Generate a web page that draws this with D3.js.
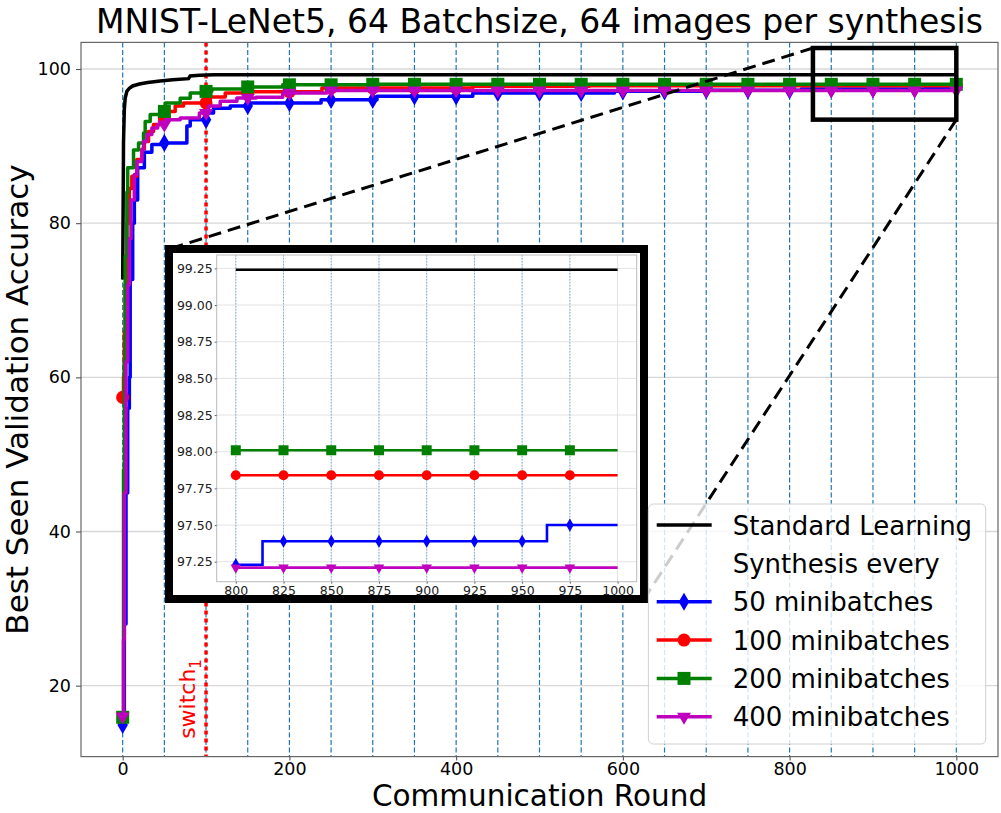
<!DOCTYPE html>
<html>
<head>
<meta charset="utf-8">
<script src="https://cdn.jsdelivr.net/npm/d3@7.9.0/dist/d3.min.js"></script>
<style>
  body { margin: 0; background: #fff; }
  svg { display: block; font-family: "DejaVu Sans", sans-serif; }
</style>
</head>
<body>
<svg id="chart" width="1001" height="813"></svg>
<script>
// ---- data (round where a new best value starts, value) ----
const stdRounds = [0, 1, 2, 3, 5, 8, 12, 20, 30, 45, 60, 79, 81, 92, 110];
const stdAcc    = [72.7, 90.5, 94.8, 96.2, 97.1, 97.5, 97.8, 98.05, 98.25, 98.45, 98.6, 98.75, 99.1, 99.2, 99.24];

const mb50Rounds = [0, 2, 4, 6, 8, 9, 12, 14, 18, 26, 35, 49, 77, 81, 101, 109, 129, 153, 238, 305, 420, 590, 700, 814, 963];
const mb50Acc    = [14.9, 28, 45, 56, 60, 72.7, 80, 83, 87.2, 89.2, 90.2, 90.4, 92.6, 93.4, 94.3, 94.9, 95.2, 95.6, 96.0, 96.45, 96.9, 97.1, 97.23, 97.39, 97.5];

const mb100Rounds = [0, 1, 2, 3, 5, 8, 11, 17, 23, 26, 31, 37, 45, 55, 63, 73, 105, 123, 145, 239, 420, 560];
const mb100Acc    = [57.4, 60, 66, 72, 80, 84.5, 86.1, 88.25, 89.6, 90.6, 91.9, 92.8, 93.65, 94.5, 95.2, 95.6, 96.37, 96.9, 97.05, 97.54, 97.75, 97.84];

const mb200Rounds = [0, 1, 2, 3, 5, 6, 13, 19, 25, 27, 33, 45, 51, 69, 81, 95, 107, 145, 192, 300];
const mb200Acc    = [15.9, 48, 62, 75.7, 84, 87.2, 89.5, 90.4, 91.7, 93.2, 94.1, 94.5, 95.6, 96.2, 96.9, 97.1, 97.4, 97.67, 97.95, 98.01];

const mb400Rounds = [0, 1, 2, 4, 6, 8, 10, 14, 17, 23, 25, 29, 35, 42, 51, 69, 92, 103, 117, 137, 160, 192, 245];
const mb400Acc    = [16.0, 26, 45, 62, 72, 78, 83, 86.3, 88.0, 89.5, 90.6, 91.5, 92.35, 92.8, 93.4, 93.65, 94.3, 95.2, 95.8, 96.24, 96.35, 96.9, 97.21];

const lastRound = 1000;
const switchRound = 100;
const xTicks = [0, 200, 400, 600, 800, 1000];
const yTicks = [20, 40, 60, 80, 100];
const insetXTicks = [800, 825, 850, 875, 900, 925, 950, 975, 1000];
const insetYTicks = [97.25, 97.5, 97.75, 98.0, 98.25, 98.5, 98.75, 99.0, 99.25];
const zoomBox = { x0: 828, x1: 1000, y0: 93.43, y1: 102.72 };

const series = [
  { label: "50 minibatches",  rounds: mb50Rounds,  acc: mb50Acc,  color: "#0000ff", marker: "diamond" },
  { label: "100 minibatches", rounds: mb100Rounds, acc: mb100Acc, color: "#ff0000", marker: "circle" },
  { label: "200 minibatches", rounds: mb200Rounds, acc: mb200Acc, color: "#008000", marker: "square" },
  { label: "400 minibatches", rounds: mb400Rounds, acc: mb400Acc, color: "#bf00bf", marker: "tri" }
];

const svg = d3.select("#chart");

// main axes area
const W = { l: 81, r: 998, t: 42.4, b: 756.6 };
const x = d3.scaleLinear().domain([-50, 1050]).range([W.l, W.r]);
const y = d3.scaleLinear().domain([10.8, 103.45]).range([W.b, W.t]);

// step lookup of the best-seen value at a round
function valueAt(s, r) {
  const i = d3.bisectRight(s.rounds, r) - 1;
  return s.acc[Math.max(0, i)];
}
function points(s) {
  const p = s.rounds.map((r, i) => [r, s.acc[i]]);
  p.push([lastRound, s.acc[s.acc.length - 1]]);
  return p;
}

// marker shapes (main size, inset size)
function symbolFor(kind, big) {
  const sizes = big
    ? { square: 169, circle: 133, diamond: 95, tri: 85 }
    : { square: 100, circle: 80, diamond: 50, tri: 48 };
  const types = { square: d3.symbolSquare, circle: d3.symbolCircle, diamond: d3.symbolDiamond, tri: d3.symbolTriangle };
  return d3.symbol().type(types[kind]).size(sizes[kind])();
}
function markerTransform(kind, px, py) {
  return kind === "tri" ? `translate(${px},${py}) rotate(180)` : `translate(${px},${py})`;
}

// grid
svg.append("g").selectAll("line").data(yTicks).join("line")
  .attr("x1", W.l).attr("x2", W.r)
  .attr("y1", d => y(d)).attr("y2", d => y(d))
  .attr("stroke", "#d8d8d8").attr("stroke-width", 1.3);

// dashed blue lines at every 50 rounds
svg.append("g").selectAll("line").data(d3.range(0, lastRound + 1, 50)).join("line")
  .attr("x1", d => x(d)).attr("x2", d => x(d))
  .attr("y1", W.t).attr("y2", W.b)
  .attr("stroke", "#1f77b4").attr("stroke-width", 1.2)
  .attr("stroke-dasharray", "5,2.5");

// switch line
svg.append("line")
  .attr("x1", x(switchRound)).attr("x2", x(switchRound))
  .attr("y1", W.t).attr("y2", W.b)
  .attr("stroke", "#ff0000").attr("stroke-width", 3.5)
  .attr("stroke-dasharray", "4,4");

svg.append("text")
  .attr("transform", `translate(${x(87)},${y(13.1)}) rotate(-90)`)
  .attr("fill", "#ff0000").attr("font-size", 22)
  .text("switch")
  .append("tspan").attr("font-size", 15).attr("dy", 6).text("1");

// curves
const lineStep = d3.line().x(d => x(d[0])).y(d => y(d[1])).curve(d3.curveStepAfter);
const lineStd = d3.line().x(d => x(d[0])).y(d => y(d[1]));

svg.append("path")
  .attr("d", lineStd(points({ rounds: stdRounds, acc: stdAcc })))
  .attr("fill", "none").attr("stroke", "#000").attr("stroke-width", 3.5);

const markRounds = d3.range(0, lastRound + 1, 50);
series.forEach(s => {
  svg.append("path")
    .attr("d", lineStep(points(s)))
    .attr("fill", "none").attr("stroke", s.color).attr("stroke-width", 3.5)
    .attr("stroke-linejoin", "round");
  svg.append("g").selectAll("path").data(markRounds).join("path")
    .attr("d", symbolFor(s.marker, true))
    .attr("transform", r => markerTransform(s.marker, x(r), y(valueAt(s, r))))
    .attr("fill", s.color);
});

// frame + axes
svg.append("rect")
  .attr("x", W.l).attr("y", W.t).attr("width", W.r - W.l).attr("height", W.b - W.t)
  .attr("fill", "none").attr("stroke", "#666").attr("stroke-width", 1.2);

const gx = svg.append("g").attr("transform", `translate(0,${W.b})`)
  .call(d3.axisBottom(x).tickValues(xTicks).tickFormat(d3.format("d")).tickSize(4).tickPadding(2));
const gy = svg.append("g").attr("transform", `translate(${W.l},0)`)
  .call(d3.axisLeft(y).tickValues(yTicks).tickFormat(d3.format("d")).tickSize(5).tickPadding(5));
[gx, gy].forEach(g => {
  g.select(".domain").remove();
  g.selectAll(".tick line").attr("stroke", "#555").attr("stroke-width", 1.1);
  g.selectAll(".tick text").attr("font-size", 17.5).attr("font-family", "DejaVu Sans").attr("fill", "#000");
});

svg.append("text")
  .attr("x", (W.l + W.r) / 2).attr("y", 33)
  .attr("text-anchor", "middle").attr("font-size", 33)
  .text("MNIST-LeNet5, 64 Batchsize, 64 images per synthesis");
svg.append("text")
  .attr("x", (W.l + W.r) / 2).attr("y", 806)
  .attr("text-anchor", "middle").attr("font-size", 29.5)
  .text("Communication Round");
svg.append("text")
  .attr("transform", `translate(28,${(W.t + W.b) / 2}) rotate(-90)`)
  .attr("text-anchor", "middle").attr("font-size", 31)
  .text("Best Seen Validation Accuracy");

// zoom indicator box and connectors
const box = { x: x(zoomBox.x0), y: y(zoomBox.y1), w: x(zoomBox.x1) - x(zoomBox.x0), h: y(zoomBox.y0) - y(zoomBox.y1) };
svg.append("rect")
  .attr("x", box.x).attr("y", box.y).attr("width", box.w).attr("height", box.h)
  .attr("fill", "none").attr("stroke", "#000").attr("stroke-width", 4.5);

const IB = { x: 169, y: 249, w: 475, h: 350 }; // inset outer border (centre of stroke)
svg.append("line")
  .attr("x1", box.x).attr("y1", box.y).attr("x2", IB.x).attr("y2", IB.y)
  .attr("stroke", "#000").attr("stroke-width", 3).attr("stroke-dasharray", "13,7");
svg.append("line")
  .attr("x1", box.x + box.w).attr("y1", box.y + box.h).attr("x2", IB.x + IB.w).attr("y2", IB.y + IB.h)
  .attr("stroke", "#000").attr("stroke-width", 3).attr("stroke-dasharray", "13,7");

// ---- inset ----
const inset = svg.append("g");
inset.append("rect")
  .attr("x", IB.x).attr("y", IB.y).attr("width", IB.w).attr("height", IB.h)
  .attr("fill", "#fff").attr("stroke", "#000").attr("stroke-width", 8);

const I = { l: 216.7, r: 636.7, t: 255, b: 581.7 };
const ix = d3.scaleLinear().domain([790, 1010]).range([I.l, I.r]);
const iy = d3.scaleLinear().domain([97.114, 99.341]).range([I.b, I.t]);

inset.append("g").selectAll("line").data(insetYTicks).join("line")
  .attr("x1", I.l).attr("x2", I.r).attr("y1", d => iy(d)).attr("y2", d => iy(d))
  .attr("stroke", "#e3e3e3").attr("stroke-width", 1);
inset.append("g").selectAll("line").data(insetXTicks).join("line")
  .attr("x1", d => ix(d)).attr("x2", d => ix(d)).attr("y1", I.t).attr("y2", I.b)
  .attr("stroke", "#e3e3e3").attr("stroke-width", 1);
inset.append("g").selectAll("line").data(d3.range(800, 1000, 25)).join("line")
  .attr("x1", d => ix(d)).attr("x2", d => ix(d)).attr("y1", I.t).attr("y2", I.b)
  .attr("stroke", "#7fb2d8").attr("stroke-width", 1).attr("stroke-dasharray", "1.5,1.5");

inset.append("rect")
  .attr("x", I.l).attr("y", I.t).attr("width", I.r - I.l).attr("height", I.b - I.t)
  .attr("fill", "none").attr("stroke", "#bbb").attr("stroke-width", 1);

function insetPoints(s) {
  const p = [[800, valueAt(s, 800)]];
  s.rounds.forEach((r, i) => { if (r > 800) p.push([r, s.acc[i]]); });
  p.push([lastRound, s.acc[s.acc.length - 1]]);
  return p;
}
const iLine = d3.line().x(d => ix(d[0])).y(d => iy(d[1])).curve(d3.curveStepAfter);

inset.append("path")
  .attr("d", iLine(insetPoints({ rounds: stdRounds, acc: stdAcc })))
  .attr("fill", "none").attr("stroke", "#000").attr("stroke-width", 2.6);

const insetMarks = d3.range(800, 1000, 25);
series.forEach(s => {
  inset.append("path")
    .attr("d", iLine(insetPoints(s)))
    .attr("fill", "none").attr("stroke", s.color).attr("stroke-width", 2.6);
  inset.append("g").selectAll("path").data(insetMarks).join("path")
    .attr("d", symbolFor(s.marker, false))
    .attr("transform", r => markerTransform(s.marker, ix(r), iy(valueAt(s, r))))
    .attr("fill", s.color);
});

const igx = inset.append("g").attr("transform", `translate(0,${I.b})`)
  .call(d3.axisBottom(ix).tickValues(insetXTicks).tickFormat(d3.format("d")).tickSize(2).tickPadding(2));
const igy = inset.append("g").attr("transform", `translate(${I.l},0)`)
  .call(d3.axisLeft(iy).tickValues(insetYTicks).tickFormat(d3.format(".2f")).tickSize(2).tickPadding(2));
[igx, igy].forEach(g => {
  g.select(".domain").remove();
  g.selectAll(".tick line").attr("stroke", "#666");
  g.selectAll(".tick text").attr("font-size", 12.5).attr("font-family", "DejaVu Sans").attr("fill", "#222");
});

// ---- legend ----
const legendRows = [
  { label: "Standard Learning", color: "#000", marker: null },
  { label: "Synthesis every", color: null, marker: null },
  ...series
];
const L = { x: 648.4, y: 504, w: 337.3, h: 240, row0: 525, step: 38.35 };
const legend = svg.append("g");
legend.append("rect")
  .attr("x", L.x).attr("y", L.y).attr("width", L.w).attr("height", L.h)
  .attr("rx", 5).attr("fill", "#fff").attr("fill-opacity", 0.8)
  .attr("stroke", "#d0d0d0").attr("stroke-width", 1);

legendRows.forEach((d, i) => {
  const cy = L.row0 + i * L.step;
  if (d.color) {
    legend.append("line")
      .attr("x1", 656.7).attr("x2", 711.7).attr("y1", cy).attr("y2", cy)
      .attr("stroke", d.color).attr("stroke-width", 3.5);
  }
  if (d.marker) {
    legend.append("path")
      .attr("d", symbolFor(d.marker, true))
      .attr("transform", markerTransform(d.marker, 684, cy))
      .attr("fill", d.color);
  }
  legend.append("text")
    .attr("x", 732.7).attr("y", cy + 9.5)
    .attr("font-size", 26).attr("fill", "#000")
    .text(d.label);
});
</script>
</body>
</html>
